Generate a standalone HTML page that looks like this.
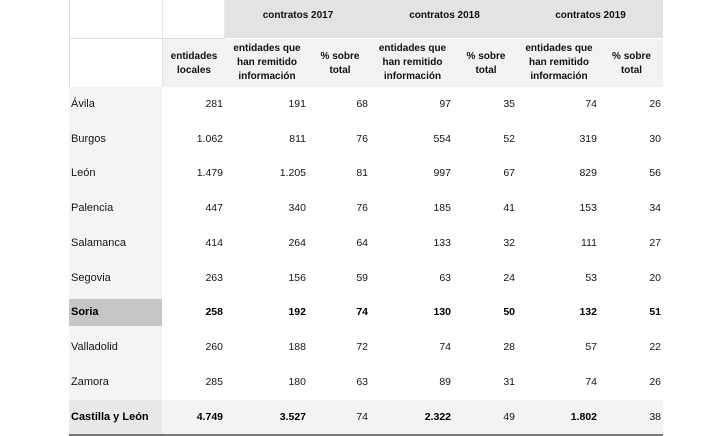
<!DOCTYPE html>
<html><head><meta charset="utf-8">
<style>
*{margin:0;padding:0;box-sizing:border-box}
body{width:714px;height:436px;background:#fff;position:relative;overflow:hidden;font-family:"Liberation Sans",sans-serif;color:#141414}
.a{position:absolute}
.h{font-weight:bold;font-size:10px;line-height:14px;text-align:center;color:#111}
.row{position:absolute;left:0;width:714px;height:34.7px}
.c{position:absolute;top:0;height:34.7px;line-height:34.7px;font-size:10.5px;text-align:right;white-space:nowrap}
.l{position:absolute;top:0;left:71px;height:34.7px;line-height:34.7px;font-size:11px;white-space:nowrap}
.b{font-weight:bold;color:#000}
</style></head><body>
<!-- header backgrounds -->
<div class="a" style="left:225px;top:0;width:438px;height:38px;background:#e3e3e3"></div>
<div class="a" style="left:163px;top:39px;width:500px;height:48px;background:#f2f2f2"></div>
<!-- header borders -->
<div class="a" style="left:69px;top:0;width:1px;height:87px;background:#dcdcdc"></div>
<div class="a" style="left:162px;top:0;width:1px;height:87px;background:#e4e4e4"></div>
<div class="a" style="left:224px;top:0;width:1px;height:38px;background:#e8e8e8"></div>
<div class="a" style="left:69px;top:38px;width:156px;height:1px;background:#dcdcdc"></div>
<!-- left column bg -->
<div class="a" style="left:69px;top:87px;width:93px;height:313px;background:#f4f4f4"></div>
<!-- soria highlight -->
<div class="a" style="left:69px;top:299px;width:93px;height:27px;background:#c6c6c6"></div>
<!-- total row -->
<div class="a" style="left:69px;top:400px;width:594px;height:34px;background:#f3f3f3"></div>
<div class="a" style="left:69px;top:400px;width:93px;height:34px;background:#e9e9e9"></div>
<div class="a" style="left:69px;top:434px;width:594px;height:2px;background:#7a7a7a"></div>

<!-- header row 1 -->
<div class="a h" style="left:225px;top:9px;width:146px">contratos 2017</div>
<div class="a h" style="left:371px;top:9px;width:147px">contratos 2018</div>
<div class="a h" style="left:518px;top:9px;width:145px">contratos 2019</div>
<!-- header row 2 -->
<div class="a h" style="left:163px;top:50px;width:62px">entidades<br>locales</div>
<div class="a h" style="left:225px;top:42px;width:84px">entidades que<br>han remitido<br>información</div>
<div class="a h" style="left:309px;top:50px;width:62px">% sobre<br>total</div>
<div class="a h" style="left:371px;top:42px;width:83px">entidades que<br>han remitido<br>información</div>
<div class="a h" style="left:454px;top:50px;width:64px">% sobre<br>total</div>
<div class="a h" style="left:518px;top:42px;width:82px">entidades que<br>han remitido<br>información</div>
<div class="a h" style="left:600px;top:50px;width:63px">% sobre<br>total</div>

<!-- data rows -->
<div class="row" style="top:87px"><span class="l">Ávila</span><span class="c" style="right:491px">281</span><span class="c" style="right:408px">191</span><span class="c" style="right:346px">68</span><span class="c" style="right:263px">97</span><span class="c" style="right:199px">35</span><span class="c" style="right:117px">74</span><span class="c" style="right:53px">26</span></div>
<div class="row" style="top:121.7px"><span class="l">Burgos</span><span class="c" style="right:491px">1.062</span><span class="c" style="right:408px">811</span><span class="c" style="right:346px">76</span><span class="c" style="right:263px">554</span><span class="c" style="right:199px">52</span><span class="c" style="right:117px">319</span><span class="c" style="right:53px">30</span></div>
<div class="row" style="top:156.4px"><span class="l">León</span><span class="c" style="right:491px">1.479</span><span class="c" style="right:408px">1.205</span><span class="c" style="right:346px">81</span><span class="c" style="right:263px">997</span><span class="c" style="right:199px">67</span><span class="c" style="right:117px">829</span><span class="c" style="right:53px">56</span></div>
<div class="row" style="top:191.1px"><span class="l">Palencia</span><span class="c" style="right:491px">447</span><span class="c" style="right:408px">340</span><span class="c" style="right:346px">76</span><span class="c" style="right:263px">185</span><span class="c" style="right:199px">41</span><span class="c" style="right:117px">153</span><span class="c" style="right:53px">34</span></div>
<div class="row" style="top:225.8px"><span class="l">Salamanca</span><span class="c" style="right:491px">414</span><span class="c" style="right:408px">264</span><span class="c" style="right:346px">64</span><span class="c" style="right:263px">133</span><span class="c" style="right:199px">32</span><span class="c" style="right:117px">111</span><span class="c" style="right:53px">27</span></div>
<div class="row" style="top:260.5px"><span class="l">Segovia</span><span class="c" style="right:491px">263</span><span class="c" style="right:408px">156</span><span class="c" style="right:346px">59</span><span class="c" style="right:263px">63</span><span class="c" style="right:199px">24</span><span class="c" style="right:117px">53</span><span class="c" style="right:53px">20</span></div>
<div class="row" style="top:295.2px"><span class="l b">Soria</span><span class="c b" style="right:491px">258</span><span class="c b" style="right:408px">192</span><span class="c b" style="right:346px">74</span><span class="c b" style="right:263px">130</span><span class="c b" style="right:199px">50</span><span class="c b" style="right:117px">132</span><span class="c b" style="right:53px">51</span></div>
<div class="row" style="top:329.9px"><span class="l">Valladolid</span><span class="c" style="right:491px">260</span><span class="c" style="right:408px">188</span><span class="c" style="right:346px">72</span><span class="c" style="right:263px">74</span><span class="c" style="right:199px">28</span><span class="c" style="right:117px">57</span><span class="c" style="right:53px">22</span></div>
<div class="row" style="top:364.6px"><span class="l">Zamora</span><span class="c" style="right:491px">285</span><span class="c" style="right:408px">180</span><span class="c" style="right:346px">63</span><span class="c" style="right:263px">89</span><span class="c" style="right:199px">31</span><span class="c" style="right:117px">74</span><span class="c" style="right:53px">26</span></div>
<div class="row" style="top:399.5px"><span class="l b">Castilla y León</span><span class="c b" style="right:491px">4.749</span><span class="c b" style="right:408px">3.527</span><span class="c" style="right:346px">74</span><span class="c b" style="right:263px">2.322</span><span class="c" style="right:199px">49</span><span class="c b" style="right:117px">1.802</span><span class="c" style="right:53px">38</span></div>
</body></html>
